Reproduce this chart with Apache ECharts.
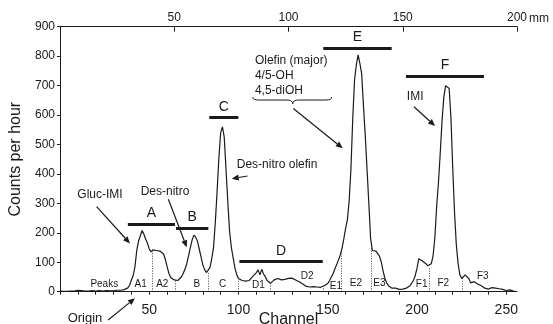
<!DOCTYPE html>
<html>
<head>
<meta charset="utf-8">
<script src="https://cdn.jsdelivr.net/npm/echarts@6/dist/echarts.min.js"></script>
<style>
html, body { margin: 0; padding: 0; background: #fff; }
#chart { width: 553px; height: 324px; }
</style>
</head>
<body>
<div id="chart"></div>
<script>
// counts per hour, one value per channel (0..255)
const counts = [
  2, 1, 1, 2, 1, 1, 2, 1, 2, 3,
  5, 6, 4, 3, 2, 3, 2, 3, 4, 3,
  2, 3, 4, 3, 2, 3, 4, 3, 3, 4,
  3, 4, 5, 4, 5, 6, 7, 9, 13, 22,
  40, 55, 85, 140, 172, 178, 208, 195, 178, 165,
  145, 135, 142, 148, 140, 145, 138, 136, 128, 110,
  85, 62, 48, 42, 40, 38, 38, 42, 50, 62,
  76, 95, 122, 150, 175, 192, 185, 172, 145, 118,
  92, 75, 65, 62, 82, 112, 150, 235, 340, 455,
  540, 560, 525, 415, 305, 205, 150, 115, 80, 58,
  45, 42, 38, 42, 36, 32, 38, 45, 52, 58,
  65, 74, 57, 76, 60, 51, 38, 32, 29, 33,
  40, 42, 45, 48, 40, 35, 42, 40, 45, 50,
  46, 44, 40, 38, 34, 30, 26, 22, 18, 16,
  16, 15, 17, 15, 16, 15, 15, 18, 20, 24,
  28, 38, 50, 62, 78, 92, 108, 125, 148, 180,
  215, 245, 310, 420, 590, 720, 770, 804, 775, 740,
  630, 530, 415, 300, 180, 140, 140, 138, 136, 120,
  100, 70, 45, 30, 20, 14, 12, 10, 12, 9,
  8, 6, 9, 8, 12, 15, 20, 25, 38, 55,
  80, 112, 108, 104, 100, 95, 88, 82, 95, 122,
  185, 290, 370, 470, 580, 660, 700, 705, 690, 590,
  420, 270, 160, 95, 58, 45, 45, 57, 55, 45,
  30, 32, 34, 28, 26, 24, 20, 16, 12, 10,
  9, 12, 14, 10, 12, 7, 10, 12, 8, 6,
  4, 10, 6, 3, 2, 1
]

// axis ticks
const channelTicks = [0, 10, 20, 30, 40, 50, 60, 70, 80, 90, 100, 110, 120, 130, 140, 150, 160, 170, 180, 190, 200, 210, 220, 230, 240, 250]
const channelLabels = [50, 100, 150, 200, 250]
const mmTicks = [0, 50, 100, 150, 200]

// fraction groups (thick bars)
const groupNames = ['A', 'B', 'C', 'D', 'E', 'F']
const groupFrom = [38, 65, 83.6, 100.5, 147.5, 193.8]
const groupTo = [64.4, 83.1, 99.9, 147.2, 185.8, 237.5]
const groupLevel = [230, 217, 591, 102, 827, 733]

// sub-fraction boundaries (dotted) and names
const boundaries = [51.4, 64.8, 83.1, 100, 118, 147.5, 157.8, 174.6, 206.9, 225.6]
const fractionNames = ['Peaks', 'A1', 'A2', 'B', 'C', 'D1', 'D2', 'E1', 'E2', 'E3', 'F1', 'F2', 'F3']
const fractionCh = [24.8, 45.2, 57.3, 76.6, 91.1, 111.1, 138.5, 154.6, 165.8, 178.9, 202.6, 214.7, 236.8]
const fractionLevel = [26, 26, 26, 26, 26, 22, 51, 20, 28, 28, 26, 28, 51]

const FONT = '"Liberation Sans", Arial, Helvetica, sans-serif'
const INK = '#1a1a1a'

const chart = echarts.init(document.getElementById('chart'))

// value on the trace at a fractional channel
const countAt = (ch) => {
    const i = Math.floor(ch), f = ch - i
    return counts[i] * (1 - f) + counts[Math.min(i + 1, counts.length - 1)] * f
}

const barLines = groupNames.map((n, i) => [
    { coord: [groupFrom[i], groupLevel[i]], lineStyle: { width: 3, type: 'solid', color: INK } },
    { coord: [groupTo[i], groupLevel[i]] }
])
const dotLines = boundaries.map((b) => [
    { coord: [b, 0], lineStyle: { width: 0.8, type: [1, 1.5], color: INK } },
    { coord: [b, countAt(b)] }
])

chart.setOption({
    animation: false,
    grid: { left: 60, right: 36, top: 26.7, bottom: 32.3, outerBoundsMode: 'none', containLabel: false },
    xAxis: [
        {
            type: 'value', position: 'bottom', min: 0, max: 256,
            name: 'Channel', nameLocation: 'middle', nameGap: 20, nameMoveOverlap: false,
            nameTextStyle: { fontFamily: FONT, fontSize: 16, color: INK },
            axisLine: { lineStyle: { color: INK, width: 1 } },
            axisTick: { customValues: channelTicks, length: 3, lineStyle: { color: INK } },
            axisLabel: { customValues: channelLabels, margin: 11, fontFamily: FONT, fontSize: 14, color: INK },
            splitLine: { show: false }
        },
        {
            type: 'value', position: 'top', min: 0, max: 200,
            axisLine: { lineStyle: { color: INK, width: 1 } },
            axisTick: { customValues: mmTicks, inside: true, length: 5, lineStyle: { color: INK } },
            axisLabel: { customValues: mmTicks.slice(1), margin: 3, fontFamily: FONT, fontSize: 12, color: INK },
            splitLine: { show: false }
        }
    ],
    yAxis: {
        type: 'value', min: 0, max: 900, interval: 100,
        name: 'Counts per hour', nameLocation: 'middle', nameGap: 36, nameMoveOverlap: false,
        nameTextStyle: { fontFamily: FONT, fontSize: 16, color: INK },
        axisLine: { show: true, lineStyle: { color: INK, width: 1 } },
        axisTick: { show: true, length: 3, lineStyle: { color: INK } },
        axisLabel: { margin: 5, fontFamily: FONT, fontSize: 12, color: INK },
        splitLine: { show: false }
    },
    series: [{
        type: 'line',
        xAxisIndex: 0,
        data: counts.map((v, i) => [i, v]),
        symbol: 'none',
        silent: true,
        lineStyle: { color: INK, width: 1.2 },
        markLine: {
            silent: true,
            symbol: ['none', 'none'],
            label: { show: false },
            data: [...barLines, ...dotLines]
        }
    }]
})

// 注释: 文字, 箭头, 括号
const px = (ch, v) => chart.convertToPixel({ xAxisIndex: 0, yAxisIndex: 0 }, [ch, v])

const text = (s, ch, v, size, align) => {
    const p = px(ch, v)
    return {
        type: 'text', x: p[0], y: p[1], silent: true,
        style: { text: s, font: size + 'px ' + FONT, fill: INK, align: align || 'center', verticalAlign: 'middle' }
    }
}

const arrow = (a, b) => {
    const p = px(a[0], a[1]), q = px(b[0], b[1])
    const dx = q[0] - p[0], dy = q[1] - p[1], L = Math.hypot(dx, dy)
    const ux = dx / L, uy = dy / L, hl = 7, hw = 3
    const bx = q[0] - ux * hl, by = q[1] - uy * hl
    return [
        { type: 'line', silent: true, shape: { x1: p[0], y1: p[1], x2: bx, y2: by }, style: { stroke: INK, lineWidth: 1.2 } },
        { type: 'polygon', silent: true, shape: { points: [q, [bx - uy * hw, by + ux * hw], [bx + uy * hw, by - ux * hw]] }, style: { fill: INK } }
    ]
}

const brace = (c0, c1, cm, vTop, vMid, vTip) => {
    const L = px(c0, vMid), R = px(c1, vMid), M = px(cm, vMid)
    const yTop = px(c0, vTop)[1], yTip = px(cm, vTip)[1], y = L[1], r = 6
    const st = { stroke: INK, lineWidth: 1, fill: null }
    const q = (x1, y1, cx, cy, x2, y2) => ({ type: 'bezierCurve', silent: true, shape: { x1, y1, cpx1: cx, cpy1: cy, x2, y2 }, style: st })
    const l = (x1, x2) => ({ type: 'line', silent: true, shape: { x1, y1: y, x2, y2: y }, style: st })
    return [
        q(L[0], yTop, L[0], y, L[0] + r, y),
        l(L[0] + r, M[0] - r),
        q(M[0] - r, y, M[0], y, M[0], yTip),
        q(M[0], yTip, M[0], y, M[0] + r, y),
        l(M[0] + r, R[0] - r),
        q(R[0] - r, y, R[0], y, R[0], yTop)
    ]
}

const elements = []

groupNames.forEach((n, i) => {
    const mid = (groupFrom[i] + groupTo[i]) / 2
    elements.push(text(n, mid, groupLevel[i] + 37, 14))
})
fractionNames.forEach((n, i) => {
    elements.push(text(n, fractionCh[i], fractionLevel[i], 10))
})

elements.push(text('Gluc-IMI', 22.4, 328, 12))
elements.push(...arrow([20.5, 289], [39.2, 164]))
elements.push(text('Des-nitro', 58.8, 340, 12))
elements.push(...arrow([60.7, 314], [71, 151]))
elements.push(text('Des-nitro olefin', 99, 430, 12, 'left'))
elements.push(...arrow([105, 393], [96.2, 384]))
elements.push(text('Olefin (major)', 109.2, 784, 12, 'left'))
elements.push(text('4/5-OH', 109.2, 733, 12, 'left'))
elements.push(text('4,5-diOH', 109.2, 683, 12, 'left'))
elements.push(...brace(108, 152.2, 130.4, 661, 651, 638))
elements.push(...arrow([130.7, 622], [158.4, 487]))
elements.push(text('IMI', 194.3, 662, 12, 'left'))
elements.push(...arrow([198.3, 628], [210.1, 563]))
elements.push(text('Origin', 14, -90, 13))
elements.push(...arrow([27, -96], [42, -22]))

// "mm" after the last top tick label
const topEnd = px(256, 900)
elements.push({
    type: 'text', x: topEnd[0] + 12, y: topEnd[1] - 8, silent: true,
    style: { text: 'mm', font: '12px ' + FONT, fill: INK, align: 'left', verticalAlign: 'middle' }
})

chart.setOption({ graphic: elements })

window.addEventListener('resize', () => chart.resize())
</script>
</body>
</html>
